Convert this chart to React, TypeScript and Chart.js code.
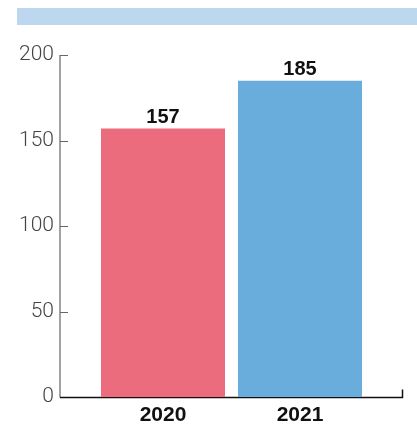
import React, { useEffect, useRef } from "react";
import { Chart, registerables } from "chart.js";

Chart.register(...registerables);

const categories = ["2020", "2021"];
const values = [157, 185];
const barColors = ["#EA6C7D", "#69ADDC"];
const yTicks = [0, 50, 100, 150, 200];

const decoPlugin = {
  id: "deco",
  beforeDatasetsDraw(chart: any) {
    const { ctx, chartArea, scales } = chart;
    const y = scales.y;
    const axisX = chartArea.left - 34.5;
    const rightX = chartArea.right + 34;
    const y0 = Math.round(y.getPixelForValue(0)) + 0.5;
    const yTop = y.getPixelForValue(200);
    ctx.save();
    ctx.strokeStyle = "#666";
    ctx.lineWidth = 1.2;
    ctx.beginPath();
    ctx.moveTo(axisX, yTop);
    ctx.lineTo(axisX, y0);
    yTicks.forEach((t) => {
      const py = Math.round(y.getPixelForValue(t)) + 0.5;
      ctx.moveTo(axisX, py);
      ctx.lineTo(axisX + 8, py);
    });
    ctx.stroke();
    ctx.strokeStyle = "#111";
    ctx.lineWidth = 1.5;
    ctx.beginPath();
    ctx.moveTo(axisX, y0);
    ctx.lineTo(rightX, y0);
    ctx.lineTo(rightX, y0 - 8);
    ctx.stroke();
    ctx.restore();
  },
  afterDatasetsDraw(chart: any) {
    const { ctx } = chart;
    const meta = chart.getDatasetMeta(0);
    ctx.save();
    ctx.font = "bold 20px 'Liberation Sans', Arial, sans-serif";
    ctx.fillStyle = "#111";
    ctx.textAlign = "center";
    ctx.textBaseline = "alphabetic";
    meta.data.forEach((bar: any, i: number) => {
      ctx.fillText(String(values[i]), bar.x, bar.y - 6);
    });
    ctx.restore();
  },
};

export default function App() {
  const ref = useRef<HTMLCanvasElement>(null);
  useEffect(() => {
    if (!ref.current) return;
    const chart = new Chart(ref.current, {
      type: "bar",
      data: {
        labels: categories,
        datasets: [
          {
            data: values,
            backgroundColor: barColors,
            borderWidth: 0,
            barPercentage: 0.905,
            categoryPercentage: 1,
          },
        ],
      },
      options: {
        animation: false,
        responsive: false,
        maintainAspectRatio: false,
        layout: { padding: { top: 55, right: 48.5, bottom: 0, left: 0 } },
        plugins: { legend: { display: false }, tooltip: { enabled: false } },
        scales: {
          x: {
            type: "category",
            offset: true,
            grid: { display: false, drawTicks: false },
            border: { display: false },
            ticks: {
              padding: 6,
              color: "#111",
              font: { family: "'Liberation Sans', Arial, sans-serif", size: 21, weight: "bold" },
            },
            afterFit(scale: any) {
              scale.height = 28;
            },
          },
          y: {
            min: 0,
            max: 200,
            grid: { display: false, drawTicks: false },
            border: { display: false },
            ticks: {
              stepSize: 50,
              padding: 40.5,
              color: "#444",
              font: { family: "Roboto, 'Liberation Sans', sans-serif", size: 21, weight: 300 },
            },
            afterFit(scale: any) {
              scale.width = 94.5;
              scale.paddingTop = 0;
              scale.paddingBottom = 0;
            },
          },
        },
      },
      plugins: [decoPlugin],
    });
    return () => chart.destroy();
  }, []);

  return (
    <div style={{ position: "fixed", left: 0, top: 0, width: 417, height: 425, background: "#fff" }}>
      <div style={{ position: "absolute", left: 17, top: 8, width: 400, height: 17, background: "#BDD7EE" }} />
      <canvas ref={ref} width={417} height={425} style={{ position: "absolute", left: 0, top: 0 }} />
    </div>
  );
}
